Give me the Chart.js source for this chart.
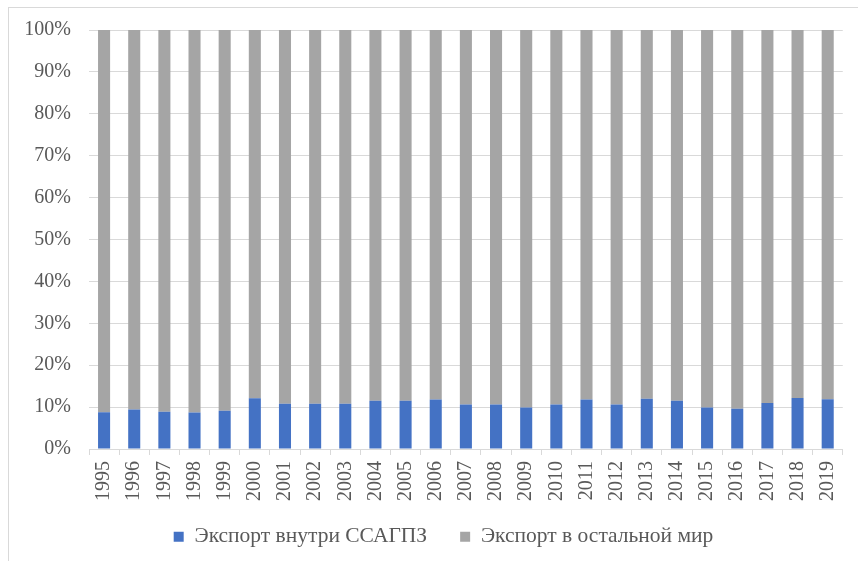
<!DOCTYPE html>
<html>
<head>
<meta charset="utf-8">
<script src="https://cdn.jsdelivr.net/npm/chart.js@4"></script>
<style>
  body { margin: 0; background: #fff; }
  #frame { position: absolute; left: 8px; top: 7px; width: 900px; height: 600px; border: 1px solid #D9D9D9; }
  #wrap { position: absolute; left: 0; top: 0; width: 858px; height: 561px; }
</style>
</head>
<body>
<div id="frame"></div>
<div id="wrap"><canvas id="myChart" width="858" height="561"></canvas></div>
<script>
"use strict";

const years = ["1995", "1996", "1997", "1998", "1999", "2000", "2001", "2002", "2003", "2004",
  "2005", "2006", "2007", "2008", "2009", "2010", "2011", "2012", "2013", "2014",
  "2015", "2016", "2017", "2018", "2019"];

// Доля экспорта (%)
const insideGcc = [8.8, 9.4, 8.9, 8.7, 9.1, 12.1, 10.8, 10.8, 10.8, 11.5,
  11.5, 11.8, 10.6, 10.6, 9.9, 10.6, 11.8, 10.6, 12.0, 11.5,
  9.9, 9.6, 11.0, 12.2, 11.9];
const restOfWorld = [91.2, 90.6, 91.1, 91.3, 90.9, 87.9, 89.2, 89.2, 89.2, 88.5,
  88.5, 88.2, 89.4, 89.4, 90.1, 89.4, 88.2, 89.4, 88.0, 88.5,
  90.1, 90.4, 89.0, 87.8, 88.1];

const yTicks = [0, 10, 20, 30, 40, 50, 60, 70, 80, 90, 100];

const font = { family: "'Liberation Serif', 'Times New Roman', serif", size: 20 };
const legendFont = { family: "'Liberation Serif', 'Times New Roman', serif", size: 21.5 };
const textColor = "#595959";
const gridColor = "#D9D9D9";

const data = {
  labels: years,
  datasets: [
    {
      label: "Экспорт внутри ССАГПЗ",
      backgroundColor: "#4472C4",
      data: insideGcc,
      barPercentage: 0.4,
      categoryPercentage: 1,
    },
    {
      label: "Экспорт в остальной мир",
      backgroundColor: "#A5A5A5",
      data: restOfWorld,
      barPercentage: 0.4,
      categoryPercentage: 1,
    },
  ],
};

// фиксированная высота легенды и сдвиг её элементов
const legendTweak = {
  id: "legendTweak",
  beforeLayout(chart) {
    const lg = chart.legend;
    if (lg && !lg._fixed) {
      const fit = lg.fit;
      lg.fit = function () {
        fit.call(this);
        this.height = 50;
      };
      const draw = lg.draw;
      lg.draw = function (area) {
        const { top, left, right } = this;
        this.top = top - 18;
        this.left = left + 22;
        this.right = right + 22;
        draw.call(this, area);
        this.top = top;
        this.left = left;
        this.right = right;
      };
      lg._fixed = true;
    }
  },
};

const config = {
  type: "bar",
  data,
  plugins: [legendTweak],
  options: {
    responsive: false,
    animation: false,
    layout: { padding: { top: 30, right: 15, left: 0, bottom: 0 } },
    plugins: {
      tooltip: { enabled: false },
      legend: {
        position: "bottom",
        labels: {
          boxWidth: 10,
          boxHeight: 10,
          padding: 33,
          color: textColor,
          font: legendFont,
        },
      },
    },
    scales: {
      x: {
        stacked: true,
        grid: { drawOnChartArea: false, drawTicks: true, tickLength: 6, color: gridColor },
        border: { color: gridColor },
        ticks: { color: textColor, font: font, maxRotation: 90, minRotation: 90, padding: 6 },
        afterFit: (scale) => { scale.height = 62; },
      },
      y: {
        stacked: true,
        min: 0,
        max: 100,
        afterBuildTicks: (scale) => { scale.ticks = yTicks.map((v) => ({ value: v })); },
        grid: { color: gridColor, drawTicks: false },
        border: { display: false },
        ticks: { color: textColor, font: font, padding: 18, callback: (v) => v + "%" },
        afterFit: (scale) => { scale.width = 89; },
      },
    },
  },
};

const myChart = new Chart(document.querySelector("#myChart"), config);
</script>
</body>
</html>
